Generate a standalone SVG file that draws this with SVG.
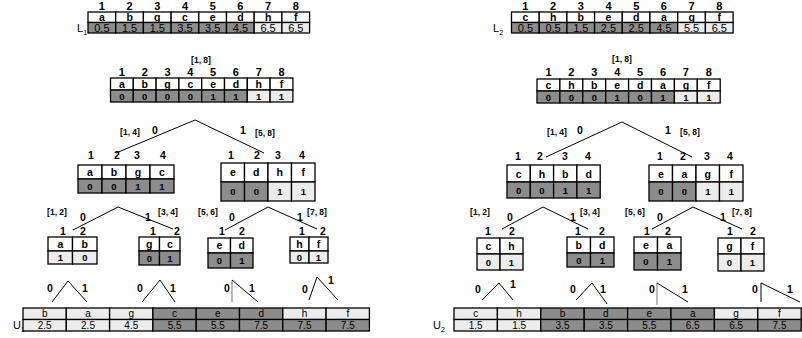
<svg xmlns="http://www.w3.org/2000/svg" width="802" height="338" viewBox="0 0 802 338">
<style>
  text { font-family: "Liberation Sans", Arial, sans-serif; text-anchor: middle; fill: #000; }
  .hb { font-size: 11px; font-weight: bold; }
  .hn { font-size: 10.5px; font-weight: bold; }
  .cb { font-size: 10.5px; font-weight: bold; }
  .cv { font-size: 11px; fill: #222; }
  .uv { font-size: 10px; fill: #222; }
  .bit { font-size: 9.5px; font-weight: bold; }
  .rng { font-size: 8.5px; font-weight: bold; }
  .br { font-size: 10.5px; font-weight: bold; }
  .nm { font-size: 11px; text-anchor: start; }
  .sub { font-size: 7px; }
  rect { stroke: #000; stroke-width: 1.3; }
  .w { fill: #fff; }
  .d { fill: #8c8c8c; }
  .l { fill: #ececec; }
  #connectors line { stroke: #000; stroke-width: 1; }
  #connectors .g { stroke: #777; }
</style>

<!-- lower-bound list L1 -->
<g id="L1">
  <text class="nm" x="77" y="32">L<tspan class="sub" dy="3">1</tspan></text>
  <g class="hb">
    <text x="101.9" y="10">1</text><text x="129.6" y="10">2</text><text x="157.3" y="10">3</text><text x="185" y="10">4</text>
    <text x="212.7" y="10">5</text><text x="240.4" y="10">6</text><text x="268.1" y="10">7</text><text x="295.8" y="10">8</text>
  </g>
  <rect class="w" x="88" y="12" width="27.7" height="10.5"/><rect class="w" x="115.7" y="12" width="27.7" height="10.5"/>
  <rect class="w" x="143.4" y="12" width="27.7" height="10.5"/><rect class="w" x="171.1" y="12" width="27.7" height="10.5"/>
  <rect class="w" x="198.8" y="12" width="27.7" height="10.5"/><rect class="w" x="226.5" y="12" width="27.7" height="10.5"/>
  <rect class="w" x="254.2" y="12" width="27.7" height="10.5"/><rect class="w" x="281.9" y="12" width="27.7" height="10.5"/>
  <rect class="d" x="88" y="22.5" width="27.7" height="10.5"/><rect class="d" x="115.7" y="22.5" width="27.7" height="10.5"/>
  <rect class="d" x="143.4" y="22.5" width="27.7" height="10.5"/><rect class="d" x="171.1" y="22.5" width="27.7" height="10.5"/>
  <rect class="d" x="198.8" y="22.5" width="27.7" height="10.5"/><rect class="d" x="226.5" y="22.5" width="27.7" height="10.5"/>
  <rect class="l" x="254.2" y="22.5" width="27.7" height="10.5"/><rect class="l" x="281.9" y="22.5" width="27.7" height="10.5"/>
  <g class="cb">
    <text x="101.9" y="20.5">a</text><text x="129.6" y="20.5">b</text><text x="157.3" y="20.5">g</text><text x="185" y="20.5">c</text>
    <text x="212.7" y="20.5">e</text><text x="240.4" y="20.5">d</text><text x="268.1" y="20.5">h</text><text x="295.8" y="20.5">f</text>
  </g>
  <g class="cv">
    <text x="101.9" y="31.5">0.5</text><text x="129.6" y="31.5">1.5</text><text x="157.3" y="31.5">1.5</text><text x="185" y="31.5">3.5</text>
    <text x="212.7" y="31.5">3.5</text><text x="240.4" y="31.5">4.5</text><text x="268.1" y="31.5">6.5</text><text x="295.8" y="31.5">6.5</text>
  </g>
</g>

<!-- lower-bound list L2 -->
<g id="L2">
  <text class="nm" x="493" y="32">L<tspan class="sub" dy="3">2</tspan></text>
  <g class="hb">
    <text x="525.4" y="10">1</text><text x="553.1" y="10">2</text><text x="580.8" y="10">3</text><text x="608.5" y="10">4</text>
    <text x="636.2" y="10">5</text><text x="663.9" y="10">6</text><text x="691.6" y="10">7</text><text x="719.3" y="10">8</text>
  </g>
  <rect class="w" x="511.5" y="12" width="27.7" height="10.5"/><rect class="w" x="539.2" y="12" width="27.7" height="10.5"/>
  <rect class="w" x="566.9" y="12" width="27.7" height="10.5"/><rect class="w" x="594.6" y="12" width="27.7" height="10.5"/>
  <rect class="w" x="622.3" y="12" width="27.7" height="10.5"/><rect class="w" x="650" y="12" width="27.7" height="10.5"/>
  <rect class="w" x="677.7" y="12" width="27.7" height="10.5"/><rect class="w" x="705.4" y="12" width="27.7" height="10.5"/>
  <rect class="d" x="511.5" y="22.5" width="27.7" height="10.5"/><rect class="d" x="539.2" y="22.5" width="27.7" height="10.5"/>
  <rect class="d" x="566.9" y="22.5" width="27.7" height="10.5"/><rect class="d" x="594.6" y="22.5" width="27.7" height="10.5"/>
  <rect class="d" x="622.3" y="22.5" width="27.7" height="10.5"/><rect class="d" x="650" y="22.5" width="27.7" height="10.5"/>
  <rect class="l" x="677.7" y="22.5" width="27.7" height="10.5"/><rect class="l" x="705.4" y="22.5" width="27.7" height="10.5"/>
  <g class="cb">
    <text x="525.4" y="20.5">c</text><text x="553.1" y="20.5">h</text><text x="580.8" y="20.5">b</text><text x="608.5" y="20.5">e</text>
    <text x="636.2" y="20.5">d</text><text x="663.9" y="20.5">a</text><text x="691.6" y="20.5">g</text><text x="719.3" y="20.5">f</text>
  </g>
  <g class="cv">
    <text x="525.4" y="31.5">0.5</text><text x="553.1" y="31.5">0.5</text><text x="580.8" y="31.5">1.5</text><text x="608.5" y="31.5">2.5</text>
    <text x="636.2" y="31.5">2.5</text><text x="663.9" y="31.5">4.5</text><text x="691.6" y="31.5">5.5</text><text x="719.3" y="31.5">6.5</text>
  </g>
</g>

<!-- tree 1, root [1, 8] -->
<g id="t1-root">
  <text class="rng" x="201" y="63">[1, 8]</text>
  <g class="hb">
    <text x="121.9" y="76">1</text><text x="144.7" y="76">2</text><text x="167.5" y="76">3</text><text x="190.3" y="76">4</text>
    <text x="213.1" y="76">5</text><text x="235.9" y="76">6</text><text x="258.7" y="76">7</text><text x="281.5" y="76">8</text>
  </g>
  <rect class="w" x="110.5" y="78" width="22.8" height="12"/><rect class="w" x="133.3" y="78" width="22.8" height="12"/>
  <rect class="w" x="156.1" y="78" width="22.8" height="12"/><rect class="w" x="178.9" y="78" width="22.8" height="12"/>
  <rect class="w" x="201.7" y="78" width="22.8" height="12"/><rect class="w" x="224.5" y="78" width="22.8" height="12"/>
  <rect class="w" x="247.3" y="78" width="22.8" height="12"/><rect class="w" x="270.1" y="78" width="22.8" height="12"/>
  <rect class="d" x="110.5" y="90" width="22.8" height="12"/><rect class="d" x="133.3" y="90" width="22.8" height="12"/>
  <rect class="d" x="156.1" y="90" width="22.8" height="12"/><rect class="d" x="178.9" y="90" width="22.8" height="12"/>
  <rect class="d" x="201.7" y="90" width="22.8" height="12"/><rect class="d" x="224.5" y="90" width="22.8" height="12"/>
  <rect class="l" x="247.3" y="90" width="22.8" height="12"/><rect class="l" x="270.1" y="90" width="22.8" height="12"/>
  <g class="cb">
    <text x="121.9" y="87.5">a</text><text x="144.7" y="87.5">b</text><text x="167.5" y="87.5">g</text><text x="190.3" y="87.5">c</text>
    <text x="213.1" y="87.5">e</text><text x="235.9" y="87.5">d</text><text x="258.7" y="87.5">h</text><text x="281.5" y="87.5">f</text>
  </g>
  <g class="bit">
    <text x="121.9" y="99.5">0</text><text x="144.7" y="99.5">0</text><text x="167.5" y="99.5">0</text><text x="190.3" y="99.5">0</text>
    <text x="213.1" y="99.5">1</text><text x="235.9" y="99.5">1</text><text x="258.7" y="99.5">1</text><text x="281.5" y="99.5">1</text>
  </g>
</g>

<!-- tree 1, node [1, 4] -->
<g id="t1-n14">
  <g class="hn">
    <text x="91" y="159">1</text><text x="117" y="159">2</text><text x="137" y="159">3</text><text x="163" y="159">4</text>
  </g>
  <rect class="w" x="78" y="165" width="24" height="14"/><rect class="w" x="102" y="165" width="24" height="14"/>
  <rect class="w" x="126" y="165" width="24" height="14"/><rect class="w" x="150" y="165" width="24" height="14"/>
  <rect class="d" x="78" y="179" width="24" height="14"/><rect class="d" x="102" y="179" width="24" height="14"/>
  <rect class="d" x="126" y="179" width="24" height="14"/><rect class="d" x="150" y="179" width="24" height="14"/>
  <g class="cb"><text x="90" y="175.5">a</text><text x="114" y="175.5">b</text><text x="138" y="175.5">g</text><text x="162" y="175.5">c</text></g>
  <g class="bit"><text x="90" y="189.5">0</text><text x="114" y="189.5">0</text><text x="138" y="189.5">1</text><text x="162" y="189.5">1</text></g>
</g>

<!-- tree 1, node [5, 8] -->
<g id="t1-n58">
  <g class="hn">
    <text x="231" y="159">1</text><text x="257" y="159">2</text><text x="278" y="159">3</text><text x="302" y="159">4</text>
  </g>
  <rect class="w" x="221" y="163" width="23.5" height="19"/><rect class="w" x="244.5" y="163" width="23.5" height="19"/>
  <rect class="w" x="268" y="163" width="23.5" height="19"/><rect class="w" x="291.5" y="163" width="23.5" height="19"/>
  <rect class="d" x="221" y="182" width="23.5" height="19"/><rect class="d" x="244.5" y="182" width="23.5" height="19"/>
  <rect class="l" x="268" y="182" width="23.5" height="19"/><rect class="l" x="291.5" y="182" width="23.5" height="19"/>
  <g class="cb"><text x="232.8" y="176">e</text><text x="256.3" y="176">d</text><text x="279.8" y="176">h</text><text x="303.3" y="176">f</text></g>
  <g class="bit"><text x="232.8" y="195">0</text><text x="256.3" y="195">0</text><text x="279.8" y="195">1</text><text x="303.3" y="195">1</text></g>
</g>

<!-- tree 1, leaves -->
<g id="t1-n12">
  <g class="hn"><text x="63" y="234.5">1</text><text x="83" y="234.5">2</text></g>
  <rect class="w" x="48" y="237" width="24.5" height="14"/><rect class="w" x="72.5" y="237" width="24.5" height="14"/>
  <rect class="l" x="48" y="251" width="24.5" height="13"/><rect class="l" x="72.5" y="251" width="24.5" height="13"/>
  <g class="cb"><text x="60.3" y="247.5">a</text><text x="84.8" y="247.5">b</text></g>
  <g class="bit"><text x="60.3" y="261">1</text><text x="84.8" y="261">0</text></g>
</g>
<g id="t1-n34">
  <g class="hn"><text x="153" y="234.5">1</text><text x="177" y="234.5">2</text></g>
  <rect class="w" x="139" y="237" width="20.5" height="14"/><rect class="w" x="159.5" y="237" width="20.5" height="14"/>
  <rect class="d" x="139" y="251" width="20.5" height="14"/><rect class="d" x="159.5" y="251" width="20.5" height="14"/>
  <g class="cb"><text x="149.3" y="247.5">g</text><text x="169.8" y="247.5">c</text></g>
  <g class="bit"><text x="149.3" y="261.5">0</text><text x="169.8" y="261.5">1</text></g>
</g>
<g id="t1-n56">
  <g class="hn"><text x="222" y="234.5">1</text><text x="242" y="234.5">2</text></g>
  <rect class="w" x="208" y="238" width="22.5" height="15"/><rect class="w" x="230.5" y="238" width="22.5" height="15"/>
  <rect class="d" x="208" y="253" width="22.5" height="15"/><rect class="d" x="230.5" y="253" width="22.5" height="15"/>
  <g class="cb"><text x="219.3" y="249">e</text><text x="241.8" y="249">d</text></g>
  <g class="bit"><text x="219.3" y="264">0</text><text x="241.8" y="264">1</text></g>
</g>
<g id="t1-n78">
  <g class="hn"><text x="302" y="234.5">1</text><text x="323" y="234.5">2</text></g>
  <rect class="w" x="290" y="237" width="19" height="14"/><rect class="w" x="309" y="237" width="19" height="14"/>
  <rect class="l" x="290" y="251" width="19" height="12"/><rect class="l" x="309" y="251" width="19" height="12"/>
  <g class="cb"><text x="299.5" y="247.5">h</text><text x="318.5" y="247.5">f</text></g>
  <g class="bit"><text x="299.5" y="260.5">0</text><text x="318.5" y="260.5">1</text></g>
</g>

<!-- tree 2, root [1, 8] -->
<g id="t2-root">
  <text class="rng" x="622" y="61.5">[1, 8]</text>
  <g class="hb">
    <text x="548.5" y="76">1</text><text x="571.4" y="76">2</text><text x="594.3" y="76">3</text><text x="617.2" y="76">4</text>
    <text x="640.1" y="76">5</text><text x="663" y="76">6</text><text x="685.9" y="76">7</text><text x="708.8" y="76">8</text>
  </g>
  <rect class="w" x="537" y="79" width="22.9" height="12"/><rect class="w" x="559.9" y="79" width="22.9" height="12"/>
  <rect class="w" x="582.8" y="79" width="22.9" height="12"/><rect class="w" x="605.7" y="79" width="22.9" height="12"/>
  <rect class="w" x="628.6" y="79" width="22.9" height="12"/><rect class="w" x="651.5" y="79" width="22.9" height="12"/>
  <rect class="w" x="674.4" y="79" width="22.9" height="12"/><rect class="w" x="697.3" y="79" width="22.9" height="12"/>
  <rect class="d" x="537" y="91" width="22.9" height="12"/><rect class="d" x="559.9" y="91" width="22.9" height="12"/>
  <rect class="d" x="582.8" y="91" width="22.9" height="12"/><rect class="d" x="605.7" y="91" width="22.9" height="12"/>
  <rect class="d" x="628.6" y="91" width="22.9" height="12"/><rect class="d" x="651.5" y="91" width="22.9" height="12"/>
  <rect class="l" x="674.4" y="91" width="22.9" height="12"/><rect class="l" x="697.3" y="91" width="22.9" height="12"/>
  <g class="cb">
    <text x="548.5" y="88.5">c</text><text x="571.4" y="88.5">h</text><text x="594.3" y="88.5">b</text><text x="617.2" y="88.5">e</text>
    <text x="640.1" y="88.5">d</text><text x="663" y="88.5">a</text><text x="685.9" y="88.5">g</text><text x="708.8" y="88.5">f</text>
  </g>
  <g class="bit">
    <text x="548.5" y="100.5">0</text><text x="571.4" y="100.5">0</text><text x="594.3" y="100.5">0</text><text x="617.2" y="100.5">1</text>
    <text x="640.1" y="100.5">0</text><text x="663" y="100.5">1</text><text x="685.9" y="100.5">1</text><text x="708.8" y="100.5">1</text>
  </g>
</g>

<!-- tree 2, node [1, 4] -->
<g id="t2-n14">
  <g class="hn">
    <text x="518" y="160">1</text><text x="540" y="160">2</text><text x="565" y="160">3</text><text x="588" y="160">4</text>
  </g>
  <rect class="w" x="507" y="165" width="23.3" height="17"/><rect class="w" x="530.3" y="165" width="23.3" height="17"/>
  <rect class="w" x="553.6" y="165" width="23.3" height="17"/><rect class="w" x="576.9" y="165" width="23.3" height="17"/>
  <rect class="d" x="507" y="182" width="23.3" height="16"/><rect class="d" x="530.3" y="182" width="23.3" height="16"/>
  <rect class="d" x="553.6" y="182" width="23.3" height="16"/><rect class="d" x="576.9" y="182" width="23.3" height="16"/>
  <g class="cb"><text x="518.7" y="177.5">c</text><text x="542" y="177.5">h</text><text x="565.3" y="177.5">b</text><text x="588.6" y="177.5">d</text></g>
  <g class="bit"><text x="518.7" y="193.5">0</text><text x="542" y="193.5">0</text><text x="565.3" y="193.5">1</text><text x="588.6" y="193.5">1</text></g>
</g>

<!-- tree 2, node [5, 8] -->
<g id="t2-n58">
  <g class="hn">
    <text x="660" y="160">1</text><text x="683" y="160">2</text><text x="707" y="160">3</text><text x="730" y="160">4</text>
  </g>
  <rect class="w" x="649" y="165" width="23.5" height="17"/><rect class="w" x="672.5" y="165" width="23.5" height="17"/>
  <rect class="w" x="696" y="165" width="23.5" height="17"/><rect class="w" x="719.5" y="165" width="23.5" height="17"/>
  <rect class="d" x="649" y="182" width="23.5" height="19"/><rect class="d" x="672.5" y="182" width="23.5" height="19"/>
  <rect class="l" x="696" y="182" width="23.5" height="19"/><rect class="l" x="719.5" y="182" width="23.5" height="19"/>
  <g class="cb"><text x="660.8" y="177.5">e</text><text x="684.3" y="177.5">a</text><text x="707.8" y="177.5">g</text><text x="731.3" y="177.5">f</text></g>
  <g class="bit"><text x="660.8" y="195">0</text><text x="684.3" y="195">0</text><text x="707.8" y="195">1</text><text x="731.3" y="195">1</text></g>
</g>

<!-- tree 2, leaves -->
<g id="t2-n12">
  <g class="hn"><text x="488" y="234.5">1</text><text x="512" y="234.5">2</text></g>
  <rect class="w" x="477" y="238" width="23" height="16"/><rect class="w" x="500" y="238" width="23" height="16"/>
  <rect class="l" x="477" y="254" width="23" height="16"/><rect class="l" x="500" y="254" width="23" height="16"/>
  <g class="cb"><text x="488.5" y="250">c</text><text x="511.5" y="250">h</text></g>
  <g class="bit"><text x="488.5" y="265.5">0</text><text x="511.5" y="265.5">1</text></g>
</g>
<g id="t2-n34">
  <g class="hn"><text x="578" y="234.5">1</text><text x="602" y="234.5">2</text></g>
  <rect class="w" x="567" y="237" width="23.5" height="16"/><rect class="w" x="590.5" y="237" width="23.5" height="16"/>
  <rect class="d" x="567" y="253" width="23.5" height="14"/><rect class="d" x="590.5" y="253" width="23.5" height="14"/>
  <g class="cb"><text x="578.8" y="249">b</text><text x="602.3" y="249">d</text></g>
  <g class="bit"><text x="578.8" y="263.5">0</text><text x="602.3" y="263.5">1</text></g>
</g>
<g id="t2-n56">
  <g class="hn"><text x="647" y="234.5">1</text><text x="668" y="234.5">2</text></g>
  <rect class="w" x="634" y="237" width="23.5" height="16"/><rect class="w" x="657.5" y="237" width="23.5" height="16"/>
  <rect class="d" x="634" y="253" width="23.5" height="17"/><rect class="d" x="657.5" y="253" width="23.5" height="17"/>
  <g class="cb"><text x="645.8" y="249">e</text><text x="669.3" y="249">a</text></g>
  <g class="bit"><text x="645.8" y="265">0</text><text x="669.3" y="265">1</text></g>
</g>
<g id="t2-n78">
  <g class="hn"><text x="730" y="234.5">1</text><text x="753" y="234.5">2</text></g>
  <rect class="w" x="718" y="238" width="23" height="16"/><rect class="w" x="741" y="238" width="23" height="16"/>
  <rect class="l" x="718" y="254" width="23" height="17"/><rect class="l" x="741" y="254" width="23" height="17"/>
  <g class="cb"><text x="729.5" y="250">g</text><text x="752.5" y="250">f</text></g>
  <g class="bit"><text x="729.5" y="266">0</text><text x="752.5" y="266">1</text></g>
</g>

<!-- upper-bound list U1 -->
<g id="U1">
  <text class="nm" x="13" y="329">U<tspan class="sub" dy="3">1</tspan></text>
  <rect class="l" x="23" y="308" width="43.3" height="11.5"/><rect class="l" x="66.3" y="308" width="43.3" height="11.5"/>
  <rect class="l" x="109.6" y="308" width="43.3" height="11.5"/><rect class="d" x="152.9" y="308" width="43.3" height="11.5"/>
  <rect class="d" x="196.2" y="308" width="43.3" height="11.5"/><rect class="d" x="239.5" y="308" width="43.3" height="11.5"/>
  <rect class="l" x="282.8" y="308" width="43.3" height="11.5"/><rect class="l" x="326.1" y="308" width="43.3" height="11.5"/>
  <rect class="l" x="23" y="319.5" width="43.3" height="11.5"/><rect class="l" x="66.3" y="319.5" width="43.3" height="11.5"/>
  <rect class="l" x="109.6" y="319.5" width="43.3" height="11.5"/><rect class="d" x="152.9" y="319.5" width="43.3" height="11.5"/>
  <rect class="d" x="196.2" y="319.5" width="43.3" height="11.5"/><rect class="d" x="239.5" y="319.5" width="43.3" height="11.5"/>
  <rect class="d" x="282.8" y="319.5" width="43.3" height="11.5"/><rect class="d" x="326.1" y="319.5" width="43.3" height="11.5"/>
  <g class="uv">
    <text x="44.7" y="317">b</text><text x="88" y="317">a</text><text x="131.3" y="317">g</text><text x="174.6" y="317">c</text>
    <text x="217.9" y="317">e</text><text x="261.2" y="317">d</text><text x="304.5" y="317">h</text><text x="347.8" y="317">f</text>
    <text x="44.7" y="328.5">2.5</text><text x="88" y="328.5">2.5</text><text x="131.3" y="328.5">4.5</text><text x="174.6" y="328.5">5.5</text>
    <text x="217.9" y="328.5">5.5</text><text x="261.2" y="328.5">7.5</text><text x="304.5" y="328.5">7.5</text><text x="347.8" y="328.5">7.5</text>
  </g>
</g>

<!-- upper-bound list U2 -->
<g id="U2">
  <text class="nm" x="433" y="329">U<tspan class="sub" dy="3">2</tspan></text>
  <rect class="l" x="454" y="308" width="43.4" height="11.5"/><rect class="l" x="497.4" y="308" width="43.4" height="11.5"/>
  <rect class="d" x="540.8" y="308" width="43.4" height="11.5"/><rect class="d" x="584.2" y="308" width="43.4" height="11.5"/>
  <rect class="d" x="627.6" y="308" width="43.4" height="11.5"/><rect class="d" x="671" y="308" width="43.4" height="11.5"/>
  <rect class="l" x="714.4" y="308" width="43.4" height="11.5"/><rect class="l" x="757.8" y="308" width="43.4" height="11.5"/>
  <rect class="l" x="454" y="319.5" width="43.4" height="11.5"/><rect class="l" x="497.4" y="319.5" width="43.4" height="11.5"/>
  <rect class="d" x="540.8" y="319.5" width="43.4" height="11.5"/><rect class="d" x="584.2" y="319.5" width="43.4" height="11.5"/>
  <rect class="d" x="627.6" y="319.5" width="43.4" height="11.5"/><rect class="d" x="671" y="319.5" width="43.4" height="11.5"/>
  <rect class="d" x="714.4" y="319.5" width="43.4" height="11.5"/><rect class="d" x="757.8" y="319.5" width="43.4" height="11.5"/>
  <g class="uv">
    <text x="475.7" y="317">c</text><text x="519.1" y="317">h</text><text x="562.5" y="317">b</text><text x="605.9" y="317">d</text>
    <text x="649.3" y="317">e</text><text x="692.7" y="317">a</text><text x="736.1" y="317">g</text><text x="779.5" y="317">f</text>
    <text x="475.7" y="328.5">1.5</text><text x="519.1" y="328.5">1.5</text><text x="562.5" y="328.5">3.5</text><text x="605.9" y="328.5">3.5</text>
    <text x="649.3" y="328.5">5.5</text><text x="692.7" y="328.5">6.5</text><text x="736.1" y="328.5">6.5</text><text x="779.5" y="328.5">7.5</text>
  </g>
</g>

<!-- branches -->
<g id="connectors">
  <line x1="195" y1="120" x2="116" y2="153"/><line x1="195" y1="120" x2="264" y2="153"/>
  <line x1="118" y1="207" x2="73" y2="230"/><line x1="118" y1="207" x2="173" y2="229"/>
  <line x1="268" y1="207" x2="225" y2="230"/><line x1="268" y1="207" x2="317" y2="229"/>
  <line x1="622" y1="122" x2="546" y2="157"/><line x1="622" y1="122" x2="692" y2="157"/>
  <line x1="543" y1="207" x2="502" y2="229"/><line x1="543" y1="207" x2="588" y2="229"/>
  <line x1="693" y1="207" x2="652" y2="229"/><line x1="693" y1="207" x2="742" y2="229"/>
  <!-- leaf splits above U1 -->
  <line x1="52" y1="302" x2="68" y2="281"/><line x1="68" y1="281" x2="87" y2="302"/>
  <line x1="142" y1="302" x2="160" y2="280"/><line x1="160" y1="280" x2="175" y2="302"/>
  <line class="g" x1="232" y1="280" x2="232" y2="302"/><line x1="232" y1="280" x2="258" y2="302"/>
  <line x1="309" y1="300" x2="317" y2="277"/><line x1="317" y1="277" x2="338" y2="300"/>
  <!-- leaf splits above U2 -->
  <line x1="482" y1="300" x2="499" y2="283"/><line x1="499" y1="283" x2="513" y2="300"/>
  <line x1="576" y1="300" x2="592" y2="283"/><line x1="592" y1="283" x2="607" y2="304"/>
  <line class="g" x1="657" y1="283" x2="657" y2="305"/><line x1="657" y1="283" x2="688" y2="302"/>
  <line x1="761" y1="283" x2="761" y2="302"/><line x1="761" y1="283" x2="800" y2="302"/>
</g>

<!-- branch labels -->
<g id="labels">
  <text class="rng" x="130" y="135">[1, 4]</text><text class="br" x="155" y="133.5">0</text>
  <text class="br" x="243" y="133.5">1</text><text class="rng" x="265" y="136">[5, 8]</text>
  <text class="rng" x="557" y="135">[1, 4]</text><text class="br" x="580" y="133.5">0</text>
  <text class="br" x="668" y="133.5">1</text><text class="rng" x="690" y="135">[5, 8]</text>

  <text class="rng" x="57" y="215">[1, 2]</text><text class="br" x="83" y="220.5">0</text>
  <text class="br" x="148" y="220.5">1</text><text class="rng" x="168" y="215">[3, 4]</text>
  <text class="rng" x="208" y="215">[5, 6]</text><text class="br" x="232" y="220.5">0</text>
  <text class="br" x="300" y="220.5">1</text><text class="rng" x="317" y="215">[7, 8]</text>

  <text class="rng" x="480" y="215">[1, 2]</text><text class="br" x="510" y="220.5">0</text>
  <text class="br" x="573" y="220.5">1</text><text class="rng" x="590" y="215">[3, 4]</text>
  <text class="rng" x="635" y="215">[5, 6]</text><text class="br" x="660" y="220.5">0</text>
  <text class="br" x="723" y="220.5">1</text><text class="rng" x="742" y="215">[7, 8]</text>

  <text class="br" x="50" y="292">0</text><text class="br" x="85" y="292">1</text>
  <text class="br" x="140" y="292">0</text><text class="br" x="173" y="292">1</text>
  <text class="br" x="227" y="292">0</text><text class="br" x="252" y="292">1</text>
  <text class="br" x="305" y="293">0</text><text class="br" x="331" y="284">1</text>

  <text class="br" x="478" y="293">0</text><text class="br" x="513" y="288">1</text>
  <text class="br" x="573" y="293">0</text><text class="br" x="603" y="293">1</text>
  <text class="br" x="652" y="293">0</text><text class="br" x="685" y="293">1</text>
  <text class="br" x="755" y="293">0</text><text class="br" x="790" y="293">1</text>
</g>
</svg>
